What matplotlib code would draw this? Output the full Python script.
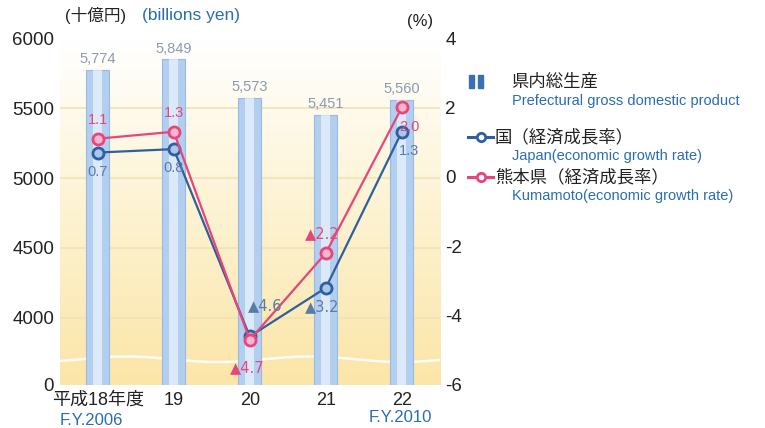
import numpy as np
import matplotlib.pyplot as plt
from matplotlib.colors import LinearSegmentedColormap

plt.rcParams['font.family'] = ['Liberation Sans', 'Noto Sans CJK JP', 'DejaVu Sans']

# === DATA ===
years = ['平成18年度', '19', '20', '21', '22']
gdp = [5774, 5849, 5573, 5451, 5560]          # billions yen
japan = [0.7, 0.8, -4.6, -3.2, 1.3]           # %
kumamoto = [1.1, 1.3, -4.7, -2.2, 2.0]        # %
gdp_labels = ['5,774', '5,849', '5,573', '5,451', '5,560']
japan_labels = ['0.7', '0.8', '▲4.6', '▲3.2', '1.3']
kuma_labels = ['1.1', '1.3', '▲4.7', '▲2.2', '2.0']

# === COLORS ===
blue = '#2f5f9c'
pink = '#e8457a'
txt_blue = '#2a6db0'
bar_col = '#b3cff0'

fig = plt.figure(figsize=(7.65, 4.28), dpi=100)
ax = fig.add_axes([0.078, 0.1005, 0.497, 0.8105])
ax2 = ax.twinx()
ax.set_zorder(1)
ax2.set_zorder(2)
ax2.patch.set_visible(False)

# left axis broken: 0 at bottom, then 4000..6000
ybot = 3521
ax.set_ylim(ybot, 6000)
ax.set_xlim(-0.5, 4.5)
ax.set_yticks([ybot, 4000, 4500, 5000, 5500, 6000])
ax.set_yticklabels(['0', '4000', '4500', '5000', '5500', '6000'], fontsize=13.5)

# background gradient (white top -> pale yellow bottom)
cmap = LinearSegmentedColormap.from_list('bg', ['#ffffff', '#fdf3d2', '#fbe5a8'])
grad = np.linspace(0, 1, 256).reshape(-1, 1)
ax.imshow(grad, aspect='auto', cmap=cmap, extent=[-0.5, 4.5, ybot, 6000],
          zorder=0, vmin=0, vmax=1)

# grid lines
for v in [4000, 4500, 5000, 5500]:
    ax.axhline(v, color='#f1e2b6', lw=1.2, zorder=0.5)

# decorative wave near the bottom
wx = np.linspace(-0.5, 4.5, 300)
ax.plot(wx, 3705 + 20 * np.sin(wx * 2.6 + 0.6), color='white', lw=1.8, alpha=0.9, zorder=0.6)

# bars
x = np.arange(len(years))
ax.bar(x, [g - ybot for g in gdp], bottom=ybot, width=0.3, color=bar_col,
       edgecolor='#98b9e4', lw=0.8, zorder=1)
ax.bar(x, [g - ybot for g in gdp], bottom=ybot, width=0.12, color='white',
       alpha=0.55, lw=0, zorder=1.1)
for xi, g, lab in zip(x, gdp, gdp_labels):
    ax.text(xi, g + 25, lab, ha='center', va='bottom', fontsize=10.5,
            color='#8a9cb0', zorder=3)

# lines on right axis
ax2.set_ylim(-6, 4)
ax2.set_yticks([-6, -4, -2, 0, 2, 4])
ax2.set_yticklabels(['-6', '-4', '-2', '0', '2', '4'], fontsize=13.5)
ax2.plot(x, japan, color=blue, lw=1.6, marker='o', ms=8, mfc='#a9c6ec',
         mec=blue, mew=2, zorder=4)
ax2.plot(x, kumamoto, color=pink, lw=1.6, marker='o', ms=8, mfc='#f7b7cf',
         mec=pink, mew=2, zorder=5)

# point labels (negative values use ▲ as minus sign)
jp_off = [(0, -0.55), (0, -0.55), (0.2, 0.9), (-0.05, -0.55), (0.1, -0.55)]
km_off = [(0, 0.55), (0, 0.55), (-0.03, -0.8), (-0.05, 0.55), (0.1, -0.55)]
for labels, vals, offs, col in [(japan_labels, japan, jp_off, '#5b7aa6'),
                                (kuma_labels, kumamoto, km_off, pink)]:
    for xi, v, lab, (dx, dy) in zip(x, vals, labels, offs):
        fam = ['DejaVu Sans'] if lab.startswith('▲') else None
        ax2.text(xi + dx, v + dy, lab, ha='center', va='center', fontsize=10.5,
                 color=col, zorder=6, family=fam)

for a in (ax, ax2):
    for s in a.spines.values():
        s.set_visible(False)
    a.tick_params(length=0, pad=4, colors='#222222')

ax.set_xticks(x)
ax.set_xticklabels(years, fontsize=13)
ax.tick_params(axis='x', pad=5)

# header texts
fig.text(0.085, 0.963, '(十億円)', fontsize=12, color='#222222', va='center')
fig.text(0.185, 0.963, '(billions yen)', fontsize=12.5, color=txt_blue, va='center')
fig.text(0.532, 0.95, '(%)', fontsize=12, color='#222222', va='center')
fig.text(0.078, 0.017, 'F.Y.2006', fontsize=12, color=txt_blue, va='center')
fig.text(0.482, 0.024, 'F.Y.2010', fontsize=12, color=txt_blue, va='center')

# legend on the right
fig.patches.append(plt.Rectangle((0.613, 0.795), 0.006, 0.03, transform=fig.transFigure,
                                 color='#3a6fb0', figure=fig))
fig.patches.append(plt.Rectangle((0.625, 0.795), 0.006, 0.03, transform=fig.transFigure,
                                 color='#3a6fb0', figure=fig))
fig.text(0.668, 0.81, '県内総生産', fontsize=12.5, color='#222222', va='center')
fig.text(0.669, 0.765, 'Prefectural gross domestic product', fontsize=10.5,
         color=txt_blue, va='center')
for yy, col, t1, t2 in [(0.68, blue, '国（経済成長率）', 'Japan(economic growth rate)'),
                        (0.587, pink, '熊本県（経済成長率）', 'Kumamoto(economic growth rate)')]:
    fig.add_artist(plt.Line2D([0.612, 0.6285, 0.645], [yy, yy, yy], color=col, lw=2.2,
                              marker='o', markevery=[1], ms=6, mfc='white', mec=col, mew=2))
    fig.text(0.647, yy, t1, fontsize=12.5, color='#222222', va='center')
    fig.text(0.669, yy - 0.044, t2, fontsize=10.5, color=txt_blue, va='center')

fig.savefig('out.png', dpi=100)
